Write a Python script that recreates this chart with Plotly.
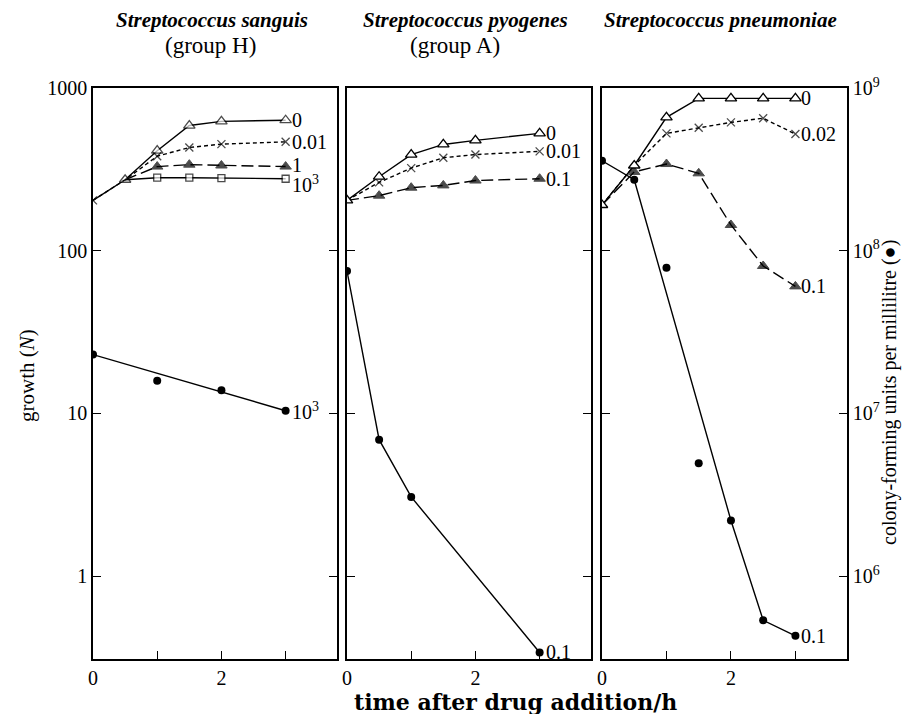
import numpy as np
import plotly.graph_objects as go

# ---------------- data ----------------
# Streptococcus sanguis (group H)
san_t = [0, 0.5, 1, 1.5, 2, 3]
san_c0 = [204, 273, 412, 588, 624, 634]
san_c001 = [204, 273, 381, 431, 452, 467]
san_c1_t = [0.5, 1, 1.5, 2, 3]
san_c1 = [273, 329, 338, 334, 329]
san_c1e3_t = [0.5, 1, 1.5, 2, 3]
san_c1e3 = [273, 281, 281, 279, 277]
san_dot_t = [0, 1, 2, 3]
san_dot = [23.0, 15.9, 13.9, 10.4]

# Streptococcus pyogenes (group A)
pyo_t = [0, 0.5, 1, 1.5, 2, 3]
pyo_c0 = [204, 285, 390, 450, 477, 526]
pyo_c001 = [204, 263, 322, 373, 390, 408]
pyo_c01 = [204, 218, 244, 252, 270, 277]
pyo_dot_t = [0, 0.5, 1, 3]
pyo_dot = [75, 6.9, 3.07, 0.34]

# Streptococcus pneumoniae
pne_t = [0, 0.5, 1, 1.5, 2, 2.5, 3]
pne_c0 = [191, 334, 660, 863, 863, 863, 863]
pne_c002 = [191, 334, 526, 570, 615, 652, 521]
pne_c01 = [191, 305, 341, 299, 144, 80.6, 60.4]
pne_cfu = [3.57e8, 2.73e8, 7.87e7, 4.94e6, 2.2e6, 5.36e5, 4.3e5]
pne_cfu_line_idx = [0, 1, 4, 5, 6]

growth_ticks = [1, 10, 100, 1000]
growth_ticktext = ["1", "10", "100", "1000"]
cfu_ticks = [1e6, 1e7, 1e8, 1e9]
cfu_ticktext = ["10<sup>6</sup>", "10<sup>7</sup>", "10<sup>8</sup>", "10<sup>9</sup>"]
time_ticks = [0, 1, 2, 3]
time_ticktext = ["0", "", "2", ""]

titles = [
    ("<i>Streptococcus sanguis</i>", "(group H)"),
    ("<i>Streptococcus pyogenes</i>", "(group A)"),
    ("<i>Streptococcus pneumoniae</i>", ""),
]

# ---------------- figure ----------------
OFF = 8  # page body margin
W, H = 911 - OFF, 714 - OFF
ML, MR, MT, MB = 93 - OFF, 64, 88 - OFF, 55
PW, PH = W - ML - MR, H - MT - MB
FONT = "Liberation Serif"


def px2x(px):
    return (px - OFF - ML) / PW


def px2y(py):
    return (OFF + MT + PH - py) / PH


fig = go.Figure()

LW = 1.4
open_tri = dict(symbol="triangle-up", color="white", line=dict(color="black", width=1.3))
fill_tri = dict(symbol="triangle-up", color="black", line=dict(color="black", width=1))
open_sq = dict(symbol="square", color="white", line=dict(color="black", width=1.3))
cross = dict(symbol="x-thin", color="black", line=dict(color="black", width=1.3))
dot = dict(symbol="circle", color="black", line=dict(color="black", width=0))


def add(x, y, xa, ya, marker, sizes, dash="solid", mode="lines+markers"):
    m = dict(marker)
    m["size"] = sizes
    fig.add_trace(go.Scatter(x=x, y=y, xaxis=xa, yaxis=ya, mode=mode,
                             line=dict(color="black", width=LW, dash=dash),
                             marker=m, showlegend=False, hoverinfo="skip"))


SHORT = "4px,3px"
LONG = "12px,5px"

# panel 1
add(san_t, san_c0, "x", "y", open_tri, [0, 10, 10, 10, 10, 10])
add(san_c1e3_t, san_c1e3, "x", "y", open_sq, [0, 7, 7, 7, 7])
add(san_c1_t, san_c1, "x", "y", fill_tri, [0, 10, 10, 10, 10], dash=LONG)
add(san_t, san_c001, "x", "y", cross, [8, 0, 8, 8, 8, 8], dash=SHORT)
add([san_dot_t[0], san_dot_t[-1]], [san_dot[0], san_dot[-1]], "x", "y", dot, 0, mode="lines")
add(san_dot_t, san_dot, "x", "y", dot, 8, mode="markers")

# panel 2
add(pyo_t, pyo_c001, "x2", "y2", cross, [0, 8, 8, 8, 8, 8], dash=SHORT)
add(pyo_t, pyo_c01, "x2", "y2", fill_tri, [0, 10, 10, 10, 10, 10], dash=LONG)
add(pyo_t, pyo_c0, "x2", "y2", open_tri, 10)
add(pyo_dot_t, pyo_dot, "x2", "y2", dot, 8)

# panel 3
add(pne_t, pne_c002, "x3", "y3", cross, [0, 0, 8, 8, 8, 8, 8], dash=SHORT)
add(pne_t, pne_c01, "x3", "y3", fill_tri, [0, 10, 10, 10, 10, 10, 10], dash=LONG)
add(pne_t, pne_c0, "x3", "y3", open_tri, 10)
add([pne_t[i] for i in pne_cfu_line_idx], [pne_cfu[i] for i in pne_cfu_line_idx],
    "x3", "y4", dot, 0, mode="lines")
add(pne_t, pne_cfu, "x3", "y4", dot, 8, mode="markers")

# end labels (axis refs, series, text, vertical nudge in px)
labels = [
    ("x", "y", san_t, san_c0, "0", 0), ("x", "y", san_t, san_c001, "0.01", 0),
    ("x", "y", san_c1_t, san_c1, "1", 2),
    ("x", "y", san_c1e3_t, san_c1e3, "10<sup>3</sup>", -5),
    ("x", "y", san_dot_t, san_dot, "10<sup>3</sup>", 0),
    ("x2", "y2", pyo_t, pyo_c0, "0", 0), ("x2", "y2", pyo_t, pyo_c001, "0.01", 0),
    ("x2", "y2", pyo_t, pyo_c01, "0.1", 0), ("x2", "y2", pyo_dot_t, pyo_dot, "0.1", 0),
    ("x3", "y3", pne_t, pne_c0, "0", 0), ("x3", "y3", pne_t, pne_c002, "0.02", 0),
    ("x3", "y3", pne_t, pne_c01, "0.1", 0), ("x3", "y4", pne_t, pne_cfu, "0.1", 0),
]
for xa, ya, tx, ty, txt, ys in labels:
    fig.add_annotation(x=tx[-1], y=np.log10(ty[-1]), xref=xa, yref=ya, text=txt,
                       showarrow=False, xanchor="left", yanchor="middle", xshift=4, yshift=ys,
                       font=dict(family=FONT, size=20, color="black"))

# axes
doms = [(px2x(93), px2x(337)), (px2x(347), px2x(591)), (px2x(602), px2x(847))]
yr = [np.log10(0.31), 3]
tickfont = dict(family=FONT, size=20, color="black")
common_x = dict(range=[0, 3.8], tickvals=time_ticks, ticktext=time_ticktext, ticks="inside",
                ticklen=8, tickwidth=1.4, tickcolor="black", showline=True, linecolor="black",
                linewidth=1.6, mirror=True, showgrid=False, zeroline=False,
                tickfont=tickfont)
common_y = dict(type="log", range=yr, tickvals=growth_ticks, ticktext=growth_ticktext,
                ticks="inside", ticklen=8, tickwidth=1.4, tickcolor="black", showline=True,
                linecolor="black", linewidth=1.6, mirror="ticks", showgrid=False,
                zeroline=False, tickfont=tickfont)
layout = dict(width=W, height=H, margin=dict(l=ML, r=MR, t=MT, b=MB, autoexpand=False),
              paper_bgcolor="white", plot_bgcolor="white", showlegend=False)
for i, d in enumerate(doms):
    sx = "" if i == 0 else str(i + 1)
    layout["xaxis" + sx] = dict(common_x, domain=list(d), anchor="y" + sx)
    layout["yaxis" + sx] = dict(common_y, domain=[0, 1], anchor="x" + sx,
                               showticklabels=(i == 0))
layout["yaxis4"] = dict(type="log", range=[yr[0] + 6, yr[1] + 6], tickvals=cfu_ticks,
                        ticktext=cfu_ticktext, ticks="inside", ticklen=8, tickwidth=1.4,
                        tickcolor="black", showline=True, linecolor="black", linewidth=1.6,
                        side="right", overlaying="y3", anchor="x3", showgrid=False,
                        zeroline=False, tickfont=tickfont)
fig.update_layout(**layout)


def paper_text(px, py, text, size, family=FONT, angle=0):
    fig.add_annotation(x=px2x(px), y=px2y(py), xref="paper", yref="paper", text=text,
                       xanchor="center", yanchor="middle", textangle=angle,
                       showarrow=False, font=dict(family=family, size=size, color="black"))


# titles
centers = [(212, 210), (465, 455), (720, 720)]
for (t1, t2), (c1, c2) in zip(titles, centers):
    paper_text(c1, 20, "<b>" + t1 + "</b>", 21)
    if t2:
        paper_text(c2, 46, t2, 23)

paper_text(27, 376, "growth (<i>N</i>)", 21, angle=-90)
paper_text(889, 393, "colony-forming units per millilitre (●)", 20, angle=-90)
paper_text(515, 702, "<b>time after drug addition/h</b>", 22, family="DejaVu Serif")

fig.write_html("out.html")
